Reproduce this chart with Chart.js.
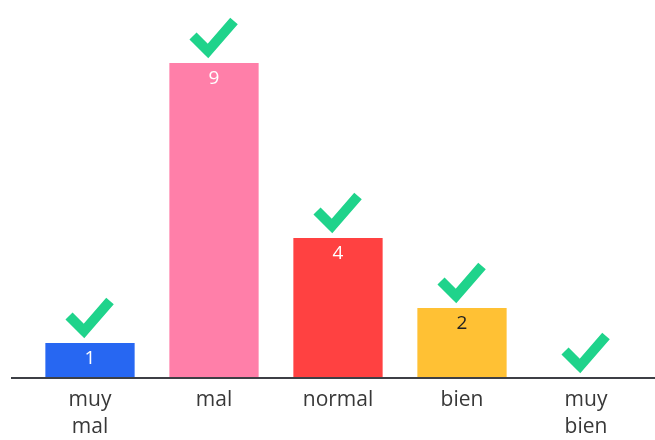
<!DOCTYPE html>
<html>
<head>
  <title>Valoración</title>
  <script src="https://cdn.jsdelivr.net/npm/chart.js"></script>
  <style>
    body { margin: 0; background: #fff; }
    #wrap { width: 655px; height: 440px; }
  </style>
</head>
<body>
  <div id="wrap"><canvas id="chart" width="655" height="440"></canvas></div>

  <script>
    const categories = [['muy', 'mal'], 'mal', 'normal', 'bien', ['muy', 'bien']];
    const votes = [1, 9, 4, 2, 0];
    const barColors = ['#2767f2', '#ff7fa9', '#ff4141', '#ffc134', '#cccccc'];
    const labelColors = ['#ffffff', '#ffffff', '#ffffff', '#222222', '#ffffff'];
    const yTicks = [0, 10];

    // draws baseline, value labels and the green checks over every bar
    const extras = {
      id: 'extras',
      afterDatasetsDraw(chart) {
        const ctx = chart.ctx;
        const y0 = chart.scales.y.getPixelForValue(0);
        ctx.save();
        ctx.strokeStyle = '#3d3f45';
        ctx.lineWidth = 2;
        ctx.beginPath();
        ctx.moveTo(11, y0);
        ctx.lineTo(chart.width, y0);
        ctx.stroke();

        chart.getDatasetMeta(0).data.forEach((bar, i) => {
          const cx = bar.x, top = bar.y;
          if (votes[i] > 0) {
            ctx.fillStyle = labelColors[i];
            ctx.font = '19px "Open Sans", sans-serif';
            ctx.textAlign = 'center';
            ctx.textBaseline = 'middle';
            ctx.fillText(votes[i], cx, top + 16);
          }
          ctx.strokeStyle = '#1fd38b';
          ctx.lineWidth = 10;
          ctx.lineCap = 'butt';
          ctx.lineJoin = 'miter';
          ctx.beginPath();
          ctx.moveTo(cx - 21, top - 27);
          ctx.lineTo(cx - 6, top - 12);
          ctx.lineTo(cx + 20, top - 42);
          ctx.stroke();
        });
        ctx.restore();
      }
    };

    new Chart(document.getElementById('chart'), {
      type: 'bar',
      data: {
        labels: categories,
        datasets: [{
          data: votes,
          backgroundColor: barColors,
          borderWidth: 0,
          categoryPercentage: 1,
          barPercentage: 0.72
        }]
      },
      options: {
        responsive: false,
        animation: false,
        layout: { padding: { top: 28, left: 28, right: 7, bottom: 0 } },
        plugins: { legend: { display: false }, tooltip: { enabled: false } },
        scales: {
          y: {
            display: false,
            min: yTicks[0],
            max: yTicks[1]
          },
          x: {
            grid: { display: false, drawTicks: false },
            border: { display: false },
            afterFit(scale) { scale.height = 62; },
            ticks: {
              color: '#383838',
              padding: 8,
              font: { size: 21, family: '"Open Sans", sans-serif', lineHeight: 1.3 },
              maxRotation: 0,
              autoSkip: false
            }
          }
        }
      },
      plugins: [extras]
    });
  </script>
</body>
</html>
